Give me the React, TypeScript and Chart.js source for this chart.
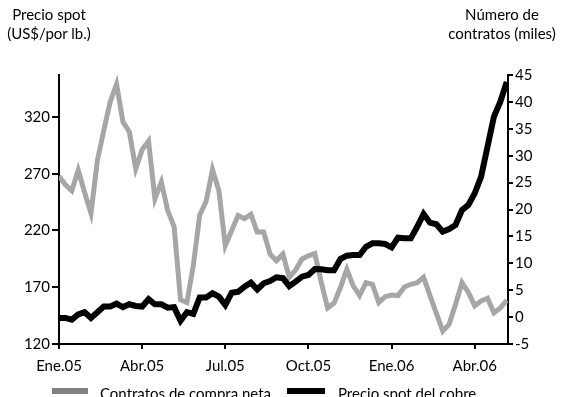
import React, { useEffect, useRef } from 'react';
import { Chart, registerables } from 'chart.js';

Chart.register(...registerables);

// Quarter tick labels on the weekly x axis
const quarterLabels = ['Ene.05', 'Abr.05', 'Jul.05', 'Oct.05', 'Ene.06', 'Abr.06'];
const quarterWeeks = [0, 13, 26, 39, 52, 65];

// Axis ticks
const priceTicks = [120, 170, 220, 270, 320];
const contractTicks = [-5, 0, 5, 10, 15, 20, 25, 30, 35, 40, 45];

// Weekly copper spot price (US$ cents / lb) - left axis
const copperPrice = [
  143, 143, 141.5, 146, 148, 143, 148, 153, 153, 155.5,
  152.5, 155, 153.5, 153, 159.5, 155, 155, 152, 152.5, 140.5,
  148, 146.5, 161, 161, 164.7, 161.7, 154.4, 165.2, 166, 170.5,
  174, 168, 173.5, 175.5, 178.8, 178, 171, 175, 179.3, 180.8,
  186, 185.8, 185, 185, 194.9, 197.8, 198.5, 198.4, 205.7, 208.7,
  208.7, 208.1, 205.2, 213.7, 213.1, 213.1, 223.3, 234.5, 226.9, 225.5,
  219, 221.3, 224.8, 238, 242.5, 252.8, 267.4, 293.8, 320.3, 333.5,
  351,
];

// Weekly net long contracts (thousands) - right axis
const netContracts = [
  26.2, 24.6, 23.5, 27.3, 23.2, 19.3, 29.1, 34.7, 40, 43.3,
  36.3, 34.4, 27.6, 31.1, 32.7, 22, 25.1, 19.8, 16.8, 3.2,
  2.7, 9.6, 19, 21.5, 27.4, 23.5, 13.3, 16.1, 18.9, 18.3,
  19.1, 15.8, 15.8, 11.7, 10.5, 11.7, 7.4, 8.8, 10.8, 11.4,
  11.8, 6.5, 1.7, 2.6, 5.5, 8.9, 5.8, 4.0, 6.4, 6.1,
  2.7, 3.8, 4.1, 4.0, 5.6, 6.1, 6.4, 7.4, 4.0, 0.7,
  -2.6, -1.3, 2.4, 6.4, 4.6, 2.1, 3.0, 3.5, 0.8, 1.7,
  3.1,
];

const FONT = 'Lato, "Open Sans", "DejaVu Sans", sans-serif';

export default function App() {
  const ref = useRef<HTMLCanvasElement>(null);

  useEffect(() => {
    const canvas = ref.current;
    if (!canvas) return;
    const tickFont = { family: FONT, size: 15 };
    const chart = new Chart(canvas, {
      type: 'line',
      data: {
        datasets: [
          {
            label: 'Precio spot del cobre',
            data: copperPrice.map((v, i) => ({ x: i, y: v })),
            yAxisID: 'yPrice',
            borderColor: '#000000',
            borderWidth: 6,
            pointRadius: 0,
            tension: 0,
            borderJoinStyle: 'miter',
            fill: false,
            order: 0,
          },
          {
            label: 'Contratos de compra neta',
            data: netContracts.map((v, i) => ({ x: i, y: v })),
            yAxisID: 'yContracts',
            borderColor: '#a5a6a8',
            borderWidth: 5,
            pointRadius: 0,
            tension: 0,
            borderJoinStyle: 'miter',
            fill: false,
            order: 1,
          },
        ],
      },
      options: {
        animation: false,
        responsive: false,
        events: [],
        layout: { padding: { top: 75, left: 0, right: 0, bottom: 0 } },
        plugins: {
          legend: { display: false },
          tooltip: { enabled: false },
          title: { display: false },
        },
        scales: {
          x: {
            type: 'linear',
            position: 'bottom',
            min: 0,
            max: 70.2,
            afterBuildTicks: (s: any) => {
              s.ticks = quarterWeeks.map((v) => ({ value: v }));
            },
            afterFit: (s: any) => {
              s.height = 53;
            },
            ticks: {
              callback: (v: any) => {
                const k = quarterWeeks.indexOf(Number(v));
                return k >= 0 ? quarterLabels[k] : '';
              },
              font: tickFont,
              color: '#000',
              padding: 8,
              maxRotation: 0,
              autoSkip: false,
            },
            grid: { drawOnChartArea: false, drawTicks: true, tickLength: 5, color: '#000', lineWidth: 2 },
            border: { display: true, color: '#000', width: 2 },
          },
          yPrice: {
            type: 'linear',
            position: 'left',
            min: 120,
            max: 357,
            afterBuildTicks: (s: any) => {
              s.ticks = priceTicks.map((v) => ({ value: v }));
            },
            afterFit: (s: any) => {
              s.width = 59;
            },
            ticks: { font: tickFont, color: '#000', padding: 2 },
            grid: { drawOnChartArea: false, drawTicks: true, tickLength: 7, color: '#000', lineWidth: 2 },
            border: { display: true, color: '#000', width: 2 },
          },
          yContracts: {
            type: 'linear',
            position: 'right',
            min: -5,
            max: 45,
            afterBuildTicks: (s: any) => {
              s.ticks = contractTicks.map((v) => ({ value: v }));
            },
            afterFit: (s: any) => {
              s.width = 53;
            },
            ticks: { font: tickFont, color: '#000', padding: 2 },
            grid: { drawOnChartArea: false, drawTicks: true, tickLength: 5, color: '#000', lineWidth: 2 },
            border: { display: true, color: '#000', width: 2 },
          },
        },
      } as any,
    });
    return () => chart.destroy();
  }, []);

  const textStyle: React.CSSProperties = {
    position: 'absolute',
    fontFamily: FONT,
    fontSize: 15,
    lineHeight: '19px',
    color: '#000',
    whiteSpace: 'nowrap',
  };

  return (
    <div style={{ position: 'absolute', left: 0, top: 0, width: 561, height: 397, background: '#fff', overflow: 'hidden' }}>
      <canvas ref={ref} width={561} height={397} style={{ position: 'absolute', left: 0, top: 0, width: 561, height: 397 }} />
      <div style={{ ...textStyle, left: 0, top: 5, width: 98, textAlign: 'center' }}>
        Precio spot
        <br />
        (US$/por lb.)
      </div>
      <div style={{ ...textStyle, left: 432, top: 5, width: 140, textAlign: 'center' }}>
        Número de
        <br />
        contratos (miles)
      </div>
      <div style={{ position: 'absolute', left: 52, top: 388, width: 36, height: 6, background: '#808080' }} />
      <div style={{ ...textStyle, left: 100, top: 384 }}>Contratos de compra neta</div>
      <div style={{ position: 'absolute', left: 287, top: 388, width: 38, height: 6, background: '#000' }} />
      <div style={{ ...textStyle, left: 338, top: 384 }}>Precio spot del cobre</div>
    </div>
  );
}
